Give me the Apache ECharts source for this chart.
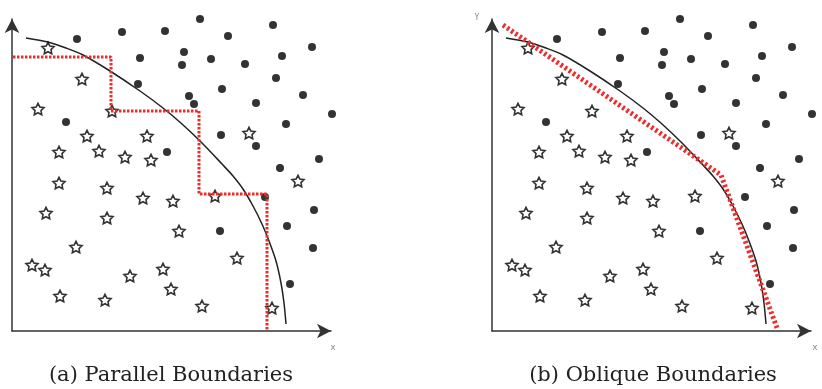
<!DOCTYPE html>
<html>
<head>
<meta charset="utf-8">
<script src="https://cdn.jsdelivr.net/npm/echarts@6/dist/echarts.min.js"></script>
<style>
  html, body { margin: 0; padding: 0; background: #fff; }
  #chart { width: 822px; height: 389px; }
</style>
</head>
<body>
<div id="chart"></div>
<script>
// same sample points in both panels (x right of y-axis, y above x-axis)
const dotsX = [65, 110, 153, 188, 216, 261, 300, 172, 128, 170, 199, 233, 270, 264, 126, 210, 177, 182, 244, 291, 320,
  54, 274, 209, 244, 155, 307, 268, 253, 302, 275, 208, 301, 278];
const dotsY = [292, 299, 300, 312, 295, 306, 284, 279, 273, 266, 272, 267, 275, 253, 247, 242, 235, 227, 228, 236, 217,
  209, 207, 196, 185, 179, 172, 163, 134, 121, 105, 100, 83, 47];
const starsX = [36, 70, 26, 100, 75, 135, 237, 47, 87, 113, 139, 47, 95, 286, 131, 161, 203, 34, 95, 167, 64, 225, 20,
  33, 118, 151, 159, 48, 93, 190, 260];
const starsY = [283, 252, 222, 220, 195, 195, 198, 179, 180, 174, 171, 148, 143, 150, 133, 130, 135, 118, 113, 100, 84,
  73, 66, 61, 55, 62, 42, 35, 31, 25, 23];

// true boundary (black curve)
const curveX = [14, 36, 54, 71, 98, 128, 151, 170, 190, 210, 221, 231, 241, 250, 257, 264, 269, 272, 274];
const curveY = [293, 289, 283, 276, 260, 240, 223, 207, 188, 167, 155, 142, 125, 107, 90, 70, 48, 28, 7];

// (a) axis-parallel boundary, (b) oblique boundary
const stepX = [1, 99, 99, 187, 187, 255, 255];
const stepY = [274, 274, 220, 220, 137, 137, 0];
const obliqueX = [11, 229, 285];
const obliqueY = [306, 156, 3];

const captions = ['(a) Parallel Boundaries', '(b) Oblique Boundaries'];

const starPath = 'path://M0,-10L2.94,-4.05L9.51,-3.09L4.76,1.55L5.88,8.09L0,5L-5.88,8.09L-4.76,1.55L-9.51,-3.09L-2.94,-4.05Z';
const zip = (xs, ys) => xs.map((x, i) => [x, ys[i]]);

const chart = echarts.init(document.getElementById('chart'));

const axisLine = {
  show: true,
  symbol: ['none', 'arrow'],
  symbolSize: [11, 14],
  lineStyle: { color: '#333', width: 1.5 }
};
function mkAxis(idx, max) {
  return {
    type: 'value', gridIndex: idx, min: 0, max: max,
    axisLine: axisLine, axisTick: { show: false }, axisLabel: { show: false }, splitLine: { show: false }
  };
}

const series = [];
[0, 1].forEach(function (g) {
  series.push({
    type: 'line', xAxisIndex: g, yAxisIndex: g, data: zip(curveX, curveY),
    smooth: 0.3, showSymbol: false, lineStyle: { color: '#222', width: 1.5 }, z: 3
  });
  series.push({
    type: 'scatter', xAxisIndex: g, yAxisIndex: g, data: zip(dotsX, dotsY), clip: false,
    symbol: 'circle', symbolSize: 8, itemStyle: { color: '#000' }, z: 4
  });
  series.push({
    type: 'scatter', xAxisIndex: g, yAxisIndex: g, data: zip(starsX, starsY), clip: false,
    symbol: starPath, symbolSize: 12, symbolKeepAspect: true,
    itemStyle: { color: '#fff', borderColor: '#000', borderWidth: 1.6 }, z: 4
  });
});
series.push({
  type: 'line', xAxisIndex: 0, yAxisIndex: 0, data: zip(stepX, stepY), showSymbol: false,
  lineStyle: { color: '#ef2b2b', width: 3, type: [2.5, 1.5] }, z: 5
});
series.push({
  type: 'line', xAxisIndex: 1, yAxisIndex: 1, data: zip(obliqueX, obliqueY), showSymbol: false,
  lineStyle: { color: '#ef2b2b', width: 5, type: [2.5, 2.5] }, z: 5
});

const option = {
  backgroundColor: '#fff',
  animation: false,
  grid: [
    { left: 12, top: 19, width: 319, height: 312 },
    { left: 492, top: 19, width: 319, height: 312 }
  ],
  xAxis: [mkAxis(0, 319), mkAxis(1, 319)],
  yAxis: [mkAxis(0, 312), mkAxis(1, 312)],
  graphic: [
    { type: 'text', x: 171, y: 376, style: { text: captions[0], font: '21px "DejaVu Serif"', fill: '#222', textAlign: 'center', textVerticalAlign: 'middle' } },
    { type: 'text', x: 653, y: 376, style: { text: captions[1], font: '21px "DejaVu Serif"', fill: '#222', textAlign: 'center', textVerticalAlign: 'middle' } },
    { type: 'text', x: 333, y: 348, style: { text: 'x', font: '9px "DejaVu Sans Mono"', fill: '#888', textAlign: 'center', textVerticalAlign: 'middle' } },
    { type: 'text', x: 815, y: 348, style: { text: 'x', font: '9px "DejaVu Sans Mono"', fill: '#888', textAlign: 'center', textVerticalAlign: 'middle' } },
    { type: 'text', x: 477, y: 18, style: { text: 'Y', font: '8px "DejaVu Sans Mono"', fill: '#888', textAlign: 'center', textVerticalAlign: 'middle' } }
  ],
  series: series
};
chart.setOption(option);
</script>
</body>
</html>
